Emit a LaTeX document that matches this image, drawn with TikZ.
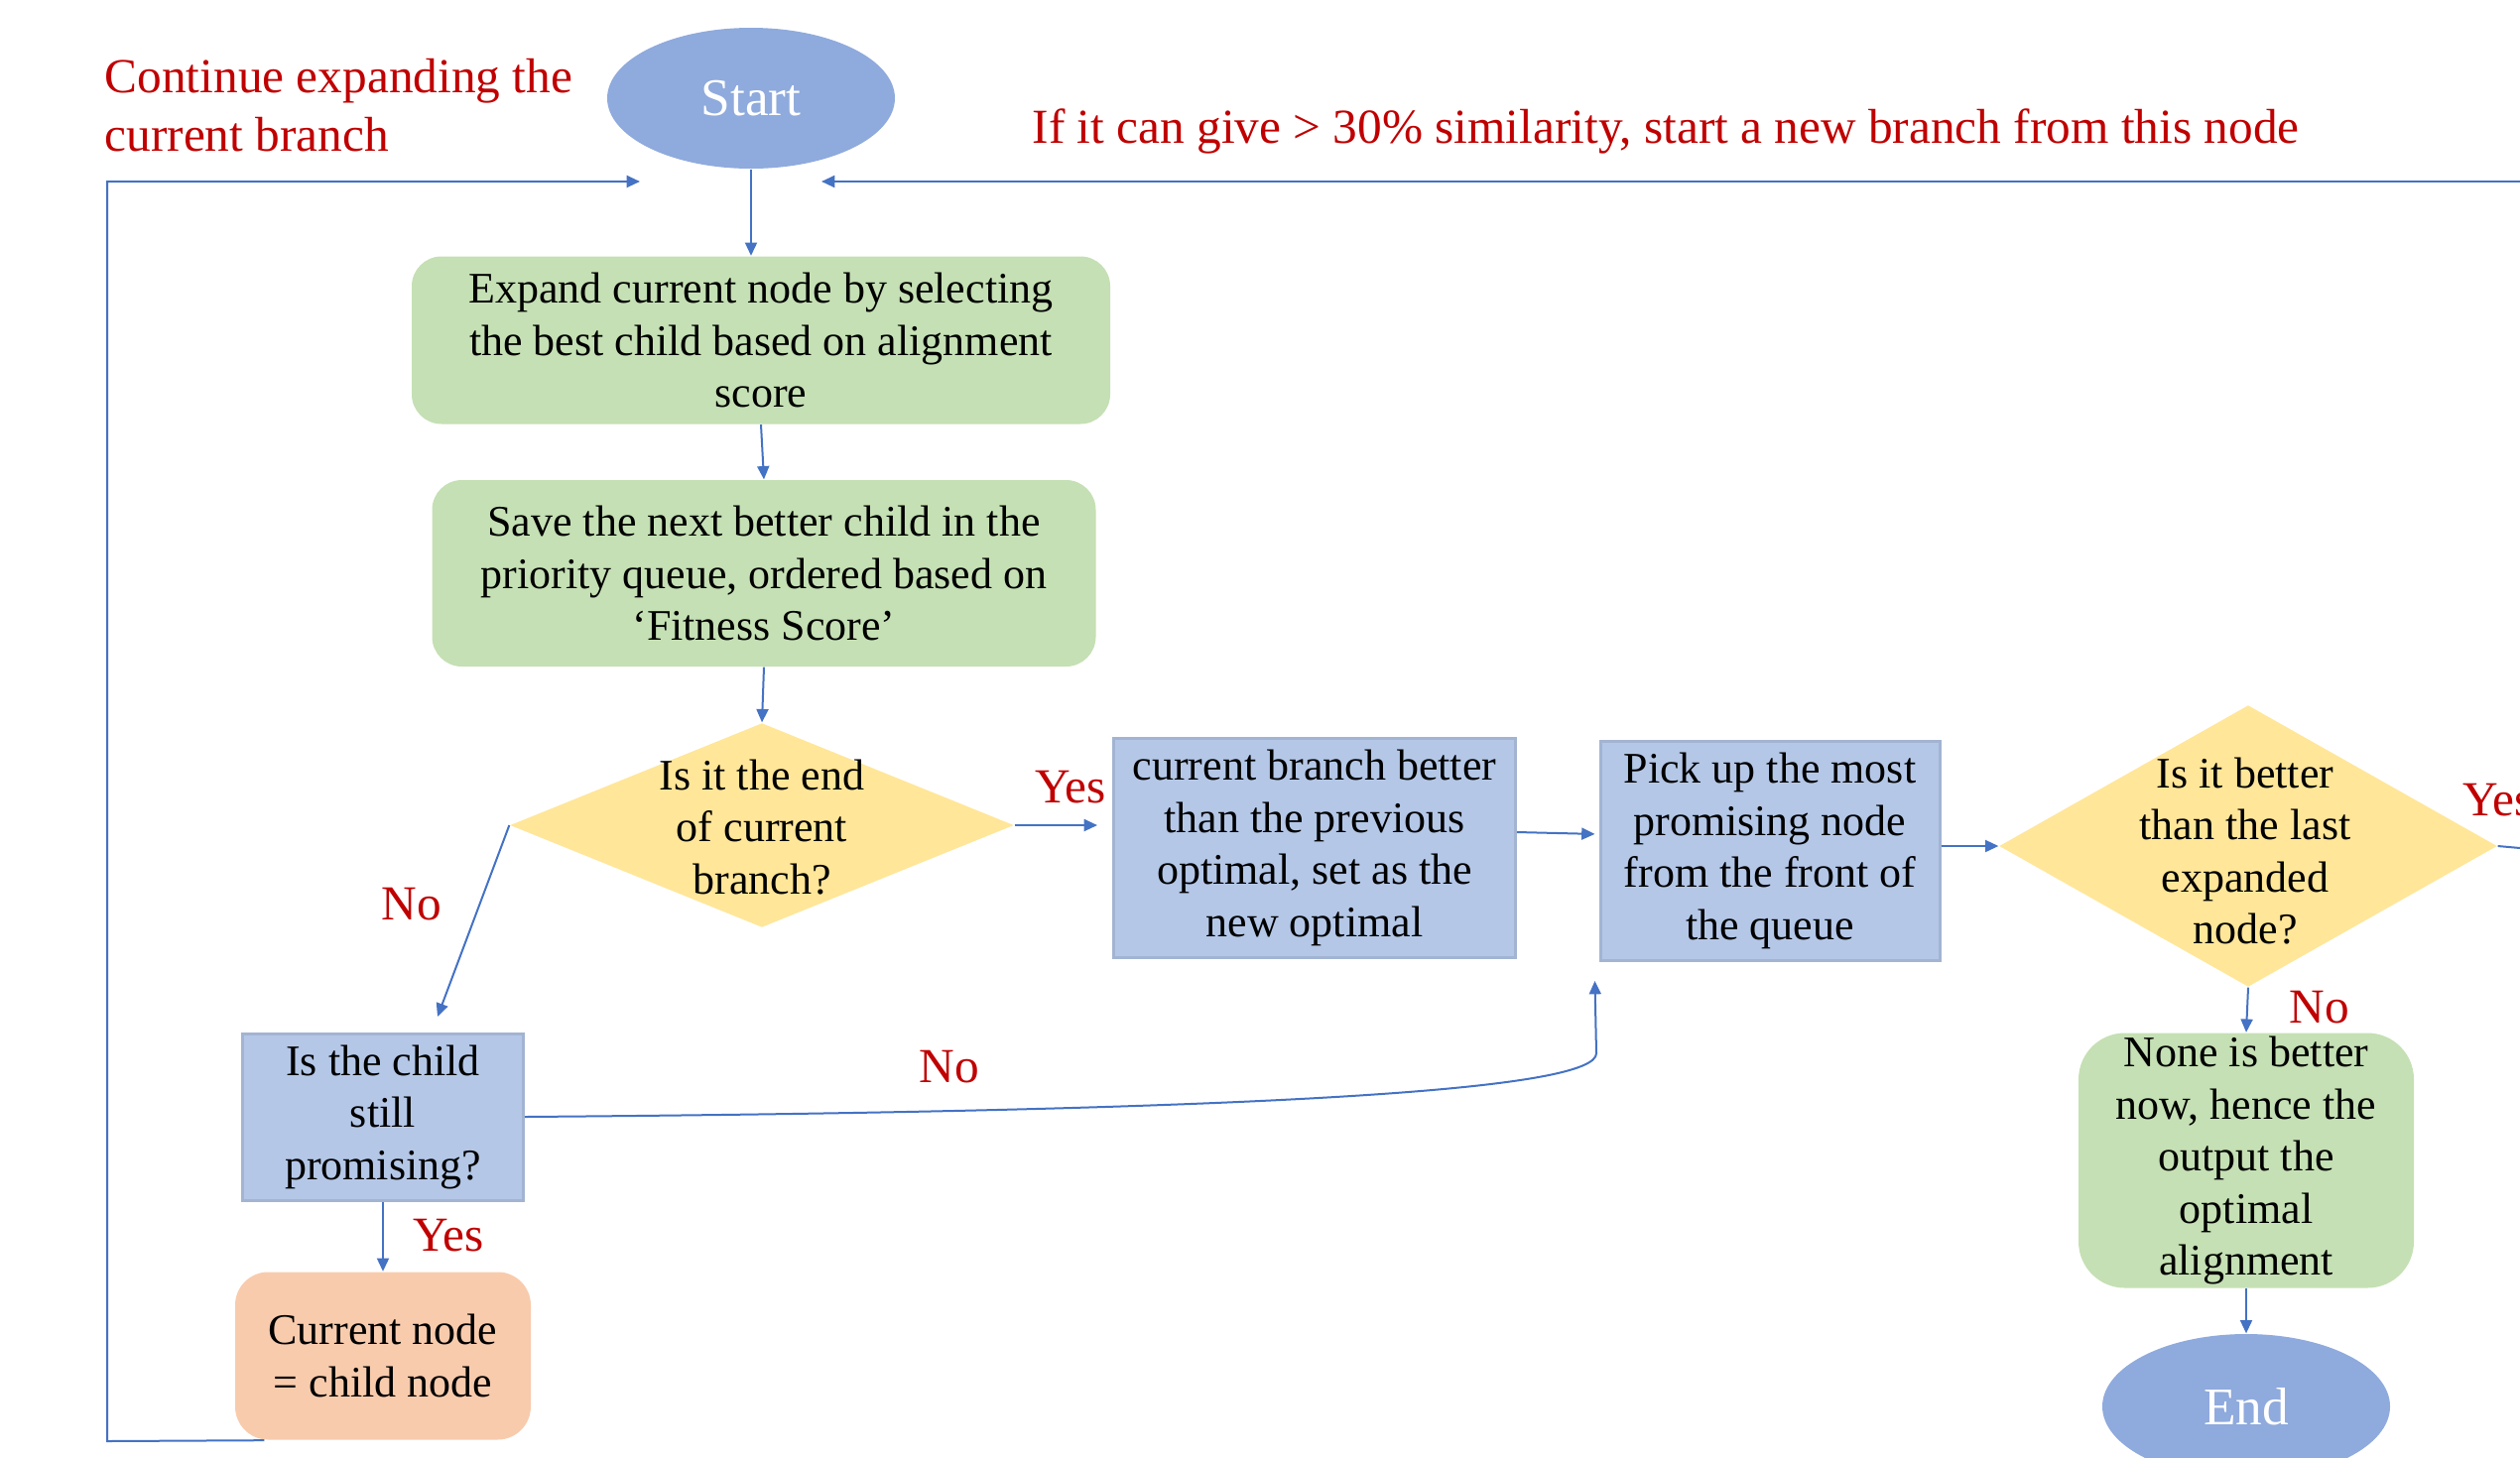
\documentclass[tikz,border=0pt]{standalone}
\usepackage{fontspec}
\setmainfont{Liberation Serif}
\usetikzlibrary{shapes.geometric,arrows.meta}
\definecolor{startc}{HTML}{8FAADC}
\definecolor{greenc}{HTML}{C5E0B4}
\definecolor{yellowc}{HTML}{FFE699}
\definecolor{bluec}{HTML}{B4C7E7}
\definecolor{blueb}{HTML}{A3B4D2}
\definecolor{peachc}{HTML}{F8CBAD}
\definecolor{arrc}{HTML}{4472C4}
\definecolor{redc}{HTML}{C00000}
\tikzset{
  boxtxt/.style={font=\fontsize{13.2}{15.75}\selectfont, align=center, text=black},
  greenbox/.style={boxtxt, fill=greenc, rounded corners=9pt, inner sep=0pt},
  bluebox/.style={boxtxt, fill=bluec, draw=blueb, line width=0.9pt, inner sep=0pt},
  peachbox/.style={boxtxt, fill=peachc, rounded corners=10pt, inner sep=0pt},
  dia/.style={diamond, fill=yellowc, inner sep=0pt},
  term/.style={ellipse, fill=startc, text=white, font=\fontsize{16}{19}\selectfont, inner sep=0pt},
  redlbl/.style={text=redc, font=\fontsize{14.8}{17.6}\selectfont, inner sep=0pt},
  arr/.style={draw=arrc, line width=0.6pt, -{Triangle[length=4pt,width=3.6pt]}},
  ln/.style={draw=arrc, line width=0.6pt},
}
\begin{document}
\begin{tikzpicture}[x=0.3pt,y=-0.3pt]
\useasboundingbox (0,0) rectangle (2540,1469);
% terminals
\node[term, minimum width=290*0.3pt, minimum height=142*0.3pt] (start) at (757,99) {Start};
\node[term, minimum width=290*0.3pt, minimum height=146*0.3pt] (end) at (2264,1418) {End};
% boxes
\node[greenbox, minimum width=704*0.3pt, minimum height=169*0.3pt] (expand) at (767,343)
  {Expand current node by selecting\\the best child based on alignment\\score};
\node[greenbox, minimum width=669*0.3pt, minimum height=188*0.3pt] (save) at (770,578)
  {Save the next better child in the\\priority queue, ordered based on\\‘Fitness Score’};
\node[dia, minimum width=508*0.3pt, minimum height=206*0.3pt] (d1) at (768,832) {};
\node[boxtxt, inner sep=0pt] (d1t) at (768,834) {Is it the end\\of current\\branch?};
\node[bluebox, minimum width=405*0.3pt, minimum height=221*0.3pt] (cb) at (1325,855)
  {current branch better\\than the previous\\optimal, set as the\\new optimal};
\node[bluebox, minimum width=342*0.3pt, minimum height=221*0.3pt] (pick) at (1784,858)
  {Pick up the most\\promising node\\from the front of\\the queue};
\node[dia, minimum width=502*0.3pt, minimum height=284*0.3pt] (d2) at (2266,853) {};
\node[boxtxt, inner sep=0pt] (d2t) at (2263,858) {Is it better\\than the last\\expanded\\node?};
\node[greenbox, rounded corners=14pt, minimum width=338*0.3pt, minimum height=257*0.3pt] (none) at (2264,1170)
  {None is better\\now, hence the\\output the\\optimal\\alignment};
\node[bluebox, minimum width=283*0.3pt, minimum height=168*0.3pt] (child) at (386,1126)
  {Is the child\\still\\promising?};
\node[peachbox, minimum width=298*0.3pt, minimum height=169*0.3pt] (cur) at (386,1367)
  {Current node\\= child node};
% red labels
\node[redlbl, align=left, anchor=west] (lcont) at (105,106) {Continue expanding the\\current branch};
\node[redlbl, anchor=west] (lsim) at (1040,132) {If it can give > 30\% similarity, start a new branch from this node};
\node[redlbl] (lyes1) at (1079,794) {Yes};
\node[redlbl] (lno1) at (415,912) {No};
\node[redlbl] (lno2) at (957,1076) {No};
\node[redlbl] (lyes2) at (452,1246) {Yes};
\node[redlbl] (lno3) at (2338,1016) {No};
\node[redlbl] (lyes3) at (2518,807) {Yes};
% free-end coordinates
\coordinate (leftin) at (645,183);
\coordinate (rightin) at (828,183);
\coordinate (rightedge) at (2540,183);
\coordinate (d2out) at (2540,855);
\coordinate (childin) at (441,1025);
% connectors
\draw[arr] (start.south) -- (start.south |- expand.north);
\draw[arr] (expand.south) -- (save.north);
\draw[arr] (save.south) -- (d1.north);
\draw[arr, shorten >=4.5pt] (d1.east) -- (d1.east -| cb.west);
\draw[arr, shorten >=1.2pt] (cb.east |- 0,839) -- (pick.west |- 0,841);
\draw[arr] (pick.east |- d2.west) -- (d2.west);
\draw[ln] (d2.east) -- (d2out);
\draw[arr] (d2.south) -- (none.north);
\draw[arr] (none.south) -- (end.north);
\draw[arr] (d1.west) -- (childin);
\draw[arr] (child.south) -- (cur.north);
\draw[arr] (child.east) .. controls (1300,1120) and (1609,1098) .. (1609,1062) -- ([xshift=-1.2pt,yshift=-5.7pt]pick.south west);
\draw[arr] ([xshift=9pt]cur.south west) -- (108,1453) -- (108,183) -- (leftin);
\draw[arr] (rightedge) -- (rightin);
\end{tikzpicture}
\end{document}
